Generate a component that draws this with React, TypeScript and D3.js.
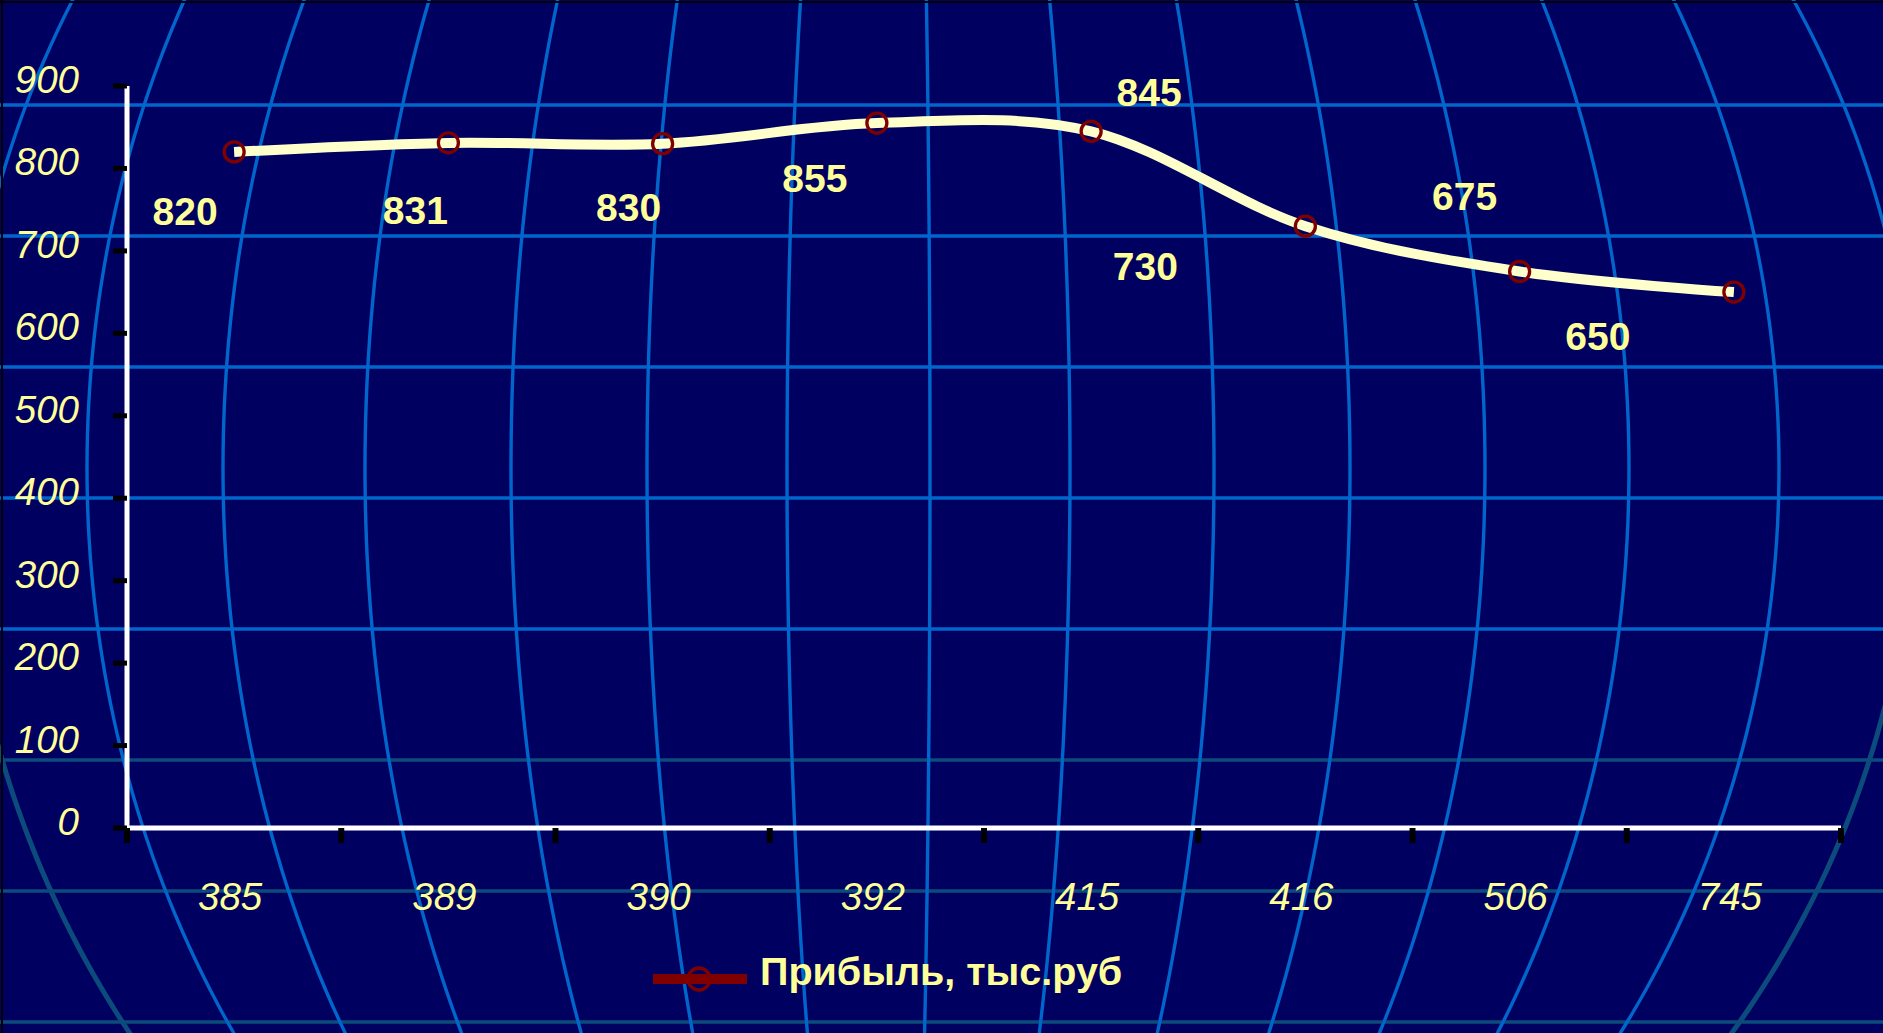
import React, { useEffect } from "react";
import * as d3 from "d3";

// ---- data ----
const categories: string[] = ["385", "389", "390", "392", "415", "416", "506", "745"];
const profit: number[] = [820, 831, 830, 855, 845, 730, 675, 650];
const yTickValues: number[] = [0, 100, 200, 300, 400, 500, 600, 700, 800, 900];
const seriesName = "Прибыль, тыс.руб";

// ---- layout (manually placed data labels: offset from point) ----
const labelNudges: [number, number][] = [
  [-49, 73], [-33, 81], [-34, 77], [-62, 69], [58, -25], [-160, 54], [-55, -62], [-136, 58],
];

// background globe decoration
const meridianEquator: number[] = [-40, 87, 223, 365, 511, 647, 787, 930, 1070, 1214, 1350, 1485, 1629, 1779, 1915];
const parallelStart = 105;
const parallelStep = 131;

const W = 1883;
const H = 1033;
const FONT = "'Liberation Sans', Arial, Helvetica, sans-serif";
const BG = "#000060";
const BRIGHT = "#0066CC";
const DARK = "#0B4C7C";
const TEXT = "#FFFF99";

export default function App() {
  useEffect(() => {
    document.body.style.margin = "0";
    document.body.style.overflow = "hidden";
  }, []);

  const x = d3.scaleBand<string>().domain(categories).range([127, 1841]).padding(0);
  const y = d3.scaleLinear().domain([0, 900]).range([828, 86]);
  const px = (i: number) => (x(categories[i]) as number) + x.bandwidth() / 2;

  const line = d3
    .line<number>()
    .x((_, i) => px(i))
    .y((d) => y(d))
    .curve(d3.curveCardinal.tension(0));

  // globe meridians
  const cx = 900, cy = 468, R = 986;
  const merLine = d3.line<[number, number]>().x((d) => d[0]).y((d) => d[1]).curve(d3.curveCatmullRom);
  const merPts = (eq: number, y0: number, y1: number) =>
    d3.range(y0, y1 + 1, 15).map((yy) => {
      const t = (yy - cy) / R;
      const f = Math.sqrt(Math.max(0, 1 - t * t));
      return [cx + (eq - cx) * f, yy] as [number, number];
    });
  const parallels = d3.range(parallelStart, H + 10, parallelStep);

  const yTickBottom = y(0);
  const bounds = x.domain().map((c) => x(c) as number).concat([x.range()[1]]);

  return (
    <svg width={W} height={H} style={{ position: "fixed", left: 0, top: 0, display: "block" }}>
      <rect x={0} y={0} width={W} height={H} fill={BG} />
      {/* background grid */}
      <g>
        {parallels.map((py, i) => (
          <line key={"p" + i} x1={0} x2={W} y1={py} y2={py} stroke={py > 700 ? DARK : BRIGHT} strokeWidth={3.5} />
        ))}
        {meridianEquator.map((eq, i) => {
          const edge = i === 0 || i === meridianEquator.length - 1;
          if (!edge) {
            return <path key={"m" + i} d={merLine(merPts(eq, -15, H + 15)) || ""} fill="none" stroke={BRIGHT} strokeWidth={3.4} />;
          }
          return (
            <g key={"m" + i}>
              <path d={merLine(merPts(eq, -15, 450)) || ""} fill="none" stroke={BRIGHT} strokeWidth={3.4} />
              <path d={merLine(merPts(eq, 450, H + 15)) || ""} fill="none" stroke={DARK} strokeWidth={5} />
            </g>
          );
        })}
      </g>
      <line x1={0} x2={W} y1={2} y2={2} stroke="#000" strokeWidth={2} />
      <line x1={2} x2={2} y1={0} y2={H} stroke="#000" strokeWidth={2} />

      {/* axes */}
      <line x1={127} x2={127} y1={y(900)} y2={y(0) + 2.5} stroke="#fff" strokeWidth={5} />
      <line x1={127} x2={x.range()[1]} y1={y(0)} y2={y(0)} stroke="#fff" strokeWidth={5} />
      {yTickValues.map((v) => (
        <g key={"yt" + v}>
          <line x1={113} x2={127} y1={y(v)} y2={y(v)} stroke="#000" strokeWidth={5} />
          <text x={79} y={y(v) + 7} textAnchor="end" fontFamily={FONT} fontStyle="italic" fontSize={38.5} fill={TEXT}>
            {v}
          </text>
        </g>
      ))}
      {bounds.map((bx, i) => (
        <line key={"xt" + i} x1={bx} x2={bx} y1={yTickBottom} y2={yTickBottom + 15} stroke="#000" strokeWidth={6} />
      ))}
      {categories.map((c, i) => (
        <text key={"xl" + c} x={px(i) - 4} y={910} textAnchor="middle" fontFamily={FONT} fontStyle="italic" fontSize={38.5} fill={TEXT}>
          {c}
        </text>
      ))}

      {/* series */}
      <path d={line(profit) || ""} fill="none" stroke="#FFFFCC" strokeWidth={10} strokeLinecap="butt" strokeLinejoin="round" />
      {profit.map((v, i) => (
        <circle key={"pt" + i} cx={px(i)} cy={y(v)} r={10} fill="none" stroke="#800000" strokeWidth={3.3} />
      ))}
      {profit.map((v, i) => (
        <text
          key={"dl" + i}
          x={px(i) + labelNudges[i][0]}
          y={y(v) + labelNudges[i][1]}
          textAnchor="middle"
          fontFamily={FONT}
          fontWeight="bold"
          fontSize={39}
          fill={TEXT}
        >
          {v}
        </text>
      ))}

      {/* legend */}
      <g>
        <line x1={653} x2={747} y1={979} y2={979} stroke="#800000" strokeWidth={10} />
        <circle cx={699} cy={979} r={11} fill="none" stroke="#800000" strokeWidth={3.3} />
        <text x={760} y={985} fontFamily={FONT} fontWeight="bold" fontSize={39.5} fill={TEXT}>
          {seriesName}
        </text>
      </g>
    </svg>
  );
}
